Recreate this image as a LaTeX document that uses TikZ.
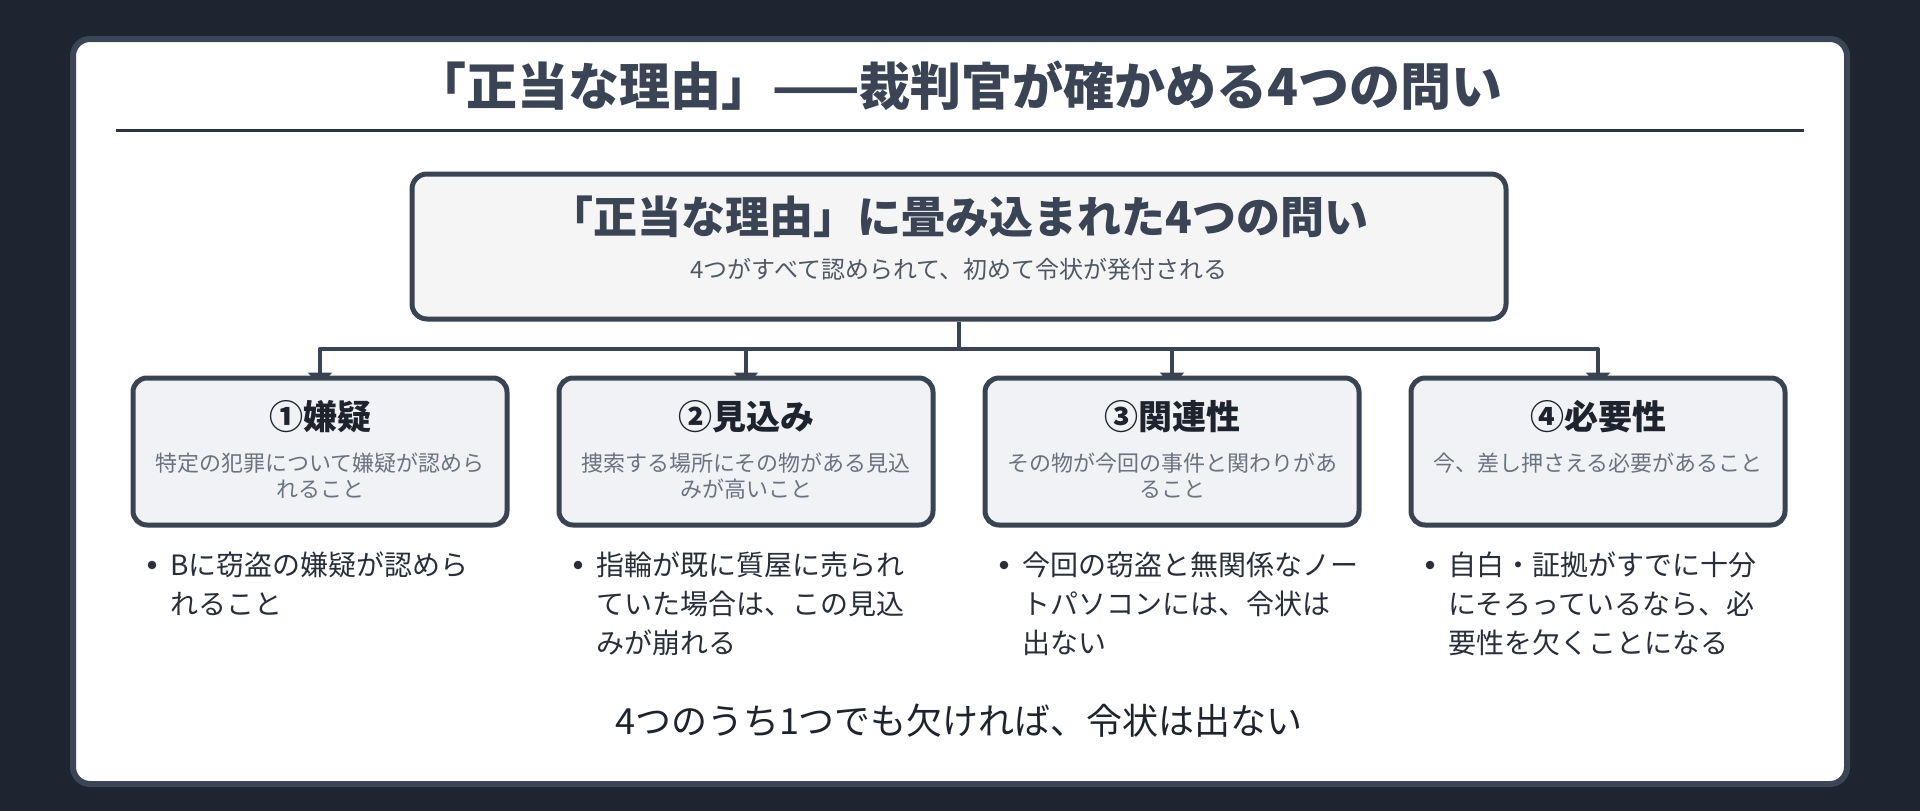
\documentclass[tikz,border=0pt]{standalone}
\usepackage{fontspec}
\setmainfont{Noto Sans CJK JP}
\usetikzlibrary{arrows.meta}
\definecolor{bgdark}{RGB}{30,37,48}
\definecolor{cardline}{RGB}{59,69,86}
\definecolor{titlecol}{RGB}{58,68,84}
\definecolor{rulecol}{RGB}{45,51,64}
\definecolor{boxline}{RGB}{57,67,82}
\definecolor{topfill}{RGB}{245,245,246}
\definecolor{smallfill}{RGB}{240,242,245}
\definecolor{headcol}{RGB}{30,36,46}
\definecolor{desccol}{RGB}{107,114,128}
\definecolor{subcol}{RGB}{80,88,100}
\definecolor{bulletcol}{RGB}{40,46,58}
\pgfdeclarelayer{back}
\pgfdeclarelayer{wires}
\pgfsetlayers{back,wires,main}
\begin{document}
\begin{tikzpicture}[x=1pt,y=-1pt,
  topbox/.style={draw=boxline,line width=5pt,fill=topfill,rounded corners=15pt,minimum width=1094pt,minimum height=145pt,inner sep=0pt},
  smallbox/.style={draw=boxline,line width=5pt,fill=smallfill,rounded corners=14pt,minimum width=374pt,minimum height=147pt,inner sep=0pt},
  conn/.style={draw=boxline,line width=4pt,line join=round},
  tipped/.style={-{Triangle[width=24pt,length=13pt]}},
  maintitle/.style={text=titlecol,font=\fontsize{51pt}{60pt}\selectfont\bfseries,inner sep=0pt,anchor=base},
  toptitle/.style={text=titlecol,font=\fontsize{44pt}{52pt}\selectfont\bfseries,inner sep=0pt,anchor=base},
  subtitle/.style={text=subcol,font=\fontsize{24pt}{28pt}\selectfont,inner sep=0pt,anchor=base},
  boxhead/.style={text=headcol,font=\fontsize{34pt}{40pt}\selectfont\bfseries,inner sep=0pt,anchor=base},
  desc/.style={text=desccol,font=\fontsize{22pt}{26.5pt}\selectfont,inner sep=0pt,anchor=base},
  bullettext/.style={text=bulletcol,font=\fontsize{28pt}{39pt}\selectfont,inner sep=0pt,anchor=base west},
  bottomtext/.style={text=headcol,font=\fontsize{36pt}{42pt}\selectfont,inner sep=0pt,anchor=base},
  dot/.style={fill=bulletcol}
]
\begin{pgfonlayer}{back}
  \fill[bgdark] (0,0) rectangle (1920,811);
  \draw[cardline,line width=6pt,fill=white,rounded corners=17pt] (73,39) rectangle (1847,784);
  \draw[rulecol,line width=3pt] (116,130) -- (1804,130);
\end{pgfonlayer}

\node[maintitle] (title) at (959,105.5) {「正当な理由」——裁判官が確かめる4つの問い};

\node[topbox] (top) at (959,246.5) {};
\node[toptitle] (toph) at (959,233) {「正当な理由」に畳み込まれた4つの問い};
\node[subtitle] (tops) at (959,278) {4つがすべて認められて、初めて令状が発付される};

\node[smallbox] (b1) at (320,451.5) {};
\node[smallbox] (b2) at (746,451.5) {};
\node[smallbox] (b3) at (1172,451.5) {};
\node[smallbox] (b4) at (1598,451.5) {};

\node[boxhead] (h1) at (320,429) {①嫌疑};
\node[boxhead] (h2) at (746,429) {②見込み};
\node[boxhead] (h3) at (1172,429) {③関連性};
\node[boxhead] (h4) at (1598,429) {④必要性};

\node[desc] (d1) at (320,471) {\parbox[t]{360pt}{\centering 特定の犯罪について嫌疑が認めら\\れること}};
\node[desc] (d2) at (746,471) {\parbox[t]{360pt}{\centering 捜索する場所にその物がある見込\\みが高いこと}};
\node[desc] (d3) at (1172,471) {\parbox[t]{360pt}{\centering その物が今回の事件と関わりがあ\\ること}};
\node[desc] (d4) at (1598,471) {\parbox[t]{360pt}{\centering 今、差し押さえる必要があること}};

\fill[dot] (152,565) circle (4.3);
\fill[dot] (578,565) circle (4.3);
\fill[dot] (1004,565) circle (4.3);
\fill[dot] (1430,565) circle (4.3);

\node[bullettext] (p1) at (170,575) {\parbox[t]{340pt}{\raggedright Bに窃盗の嫌疑が認めら\\れること}};
\node[bullettext] (p2) at (596,575) {\parbox[t]{340pt}{\raggedright 指輪が既に質屋に売られ\\ていた場合は、この見込\\みが崩れる}};
\node[bullettext] (p3) at (1022,575) {\parbox[t]{340pt}{\raggedright 今回の窃盗と無関係なノー\\トパソコンには、令状は\\出ない}};
\node[bullettext] (p4) at (1448,575) {\parbox[t]{340pt}{\raggedright 自白・証拠がすでに十分\\にそろっているなら、必\\要性を欠くことになる}};

\node[bottomtext] (foot) at (959,734) {4つのうち1つでも欠ければ、令状は出ない};

\coordinate (hub) at (959,349);
\begin{pgfonlayer}{wires}
  \draw[conn] (top.south) -- (hub);
  \draw[conn,tipped] (hub) -| ([yshift=-10pt]b1.north);
  \draw[conn,tipped] (hub) -| ([yshift=-10pt]b2.north);
  \draw[conn,tipped] (hub) -| ([yshift=-10pt]b3.north);
  \draw[conn,tipped] (hub) -| ([yshift=-10pt]b4.north);
\end{pgfonlayer}
\end{tikzpicture}
\end{document}
